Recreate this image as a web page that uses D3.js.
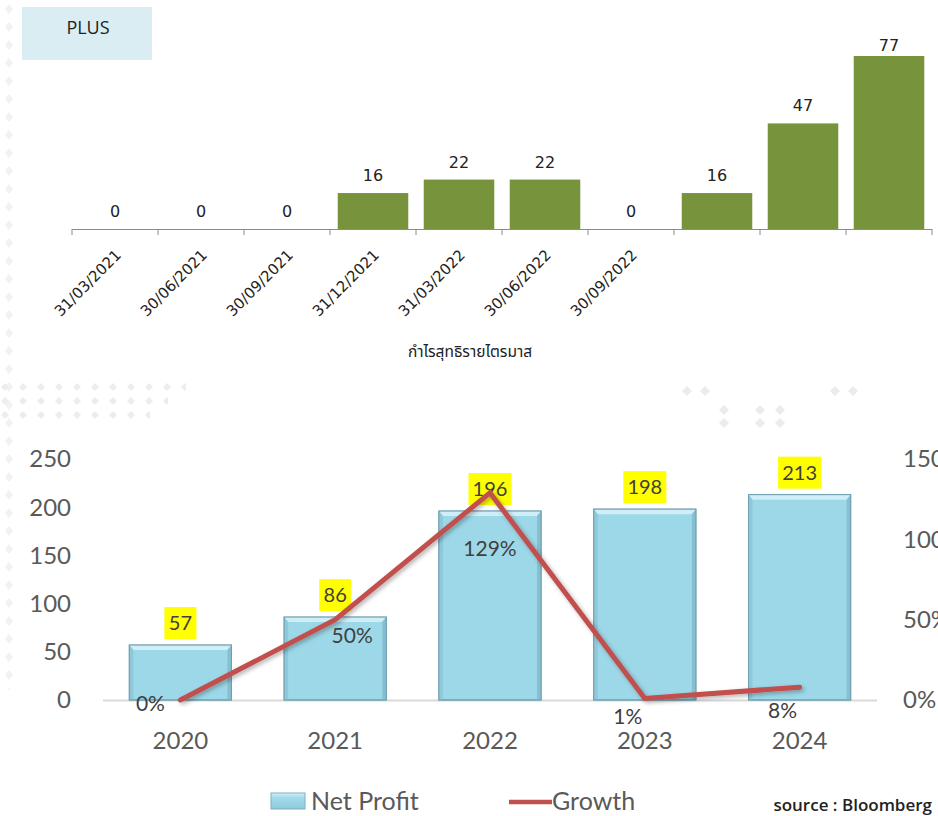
<!DOCTYPE html>
<html>
<head>
<meta charset="utf-8">
<script src="https://cdn.jsdelivr.net/npm/d3@7"></script>
<style>
  body { margin: 0; background: #fff; }
  svg { display: block; }
</style>
</head>
<body>
<svg id="chart" width="938" height="816"></svg>
<script>
// quarterly net profit (top chart)
const quarters = ['31/03/2021','30/06/2021','30/09/2021','31/12/2021','31/03/2022','30/06/2022','30/09/2022','q8','q9','q10'];
const quarterLabels = ['31/03/2021','30/06/2021','30/09/2021','31/12/2021','31/03/2022','30/06/2022','30/09/2022','','',''];
const quarterProfit = [0,0,0,16,22,22,0,16,47,77];

// yearly net profit + growth (bottom chart)
const years = ['2020','2021','2022','2023','2024'];
const netProfit = [57,86,196,198,213];
const growth = [0,0.50,1.29,0.01,0.08];
const growthLabels = ['0%','50%','129%','1%','8%'];
const leftTicks = [0,50,100,150,200,250];
const rightTicks = [0,0.5,1.0,1.5];

const svg = d3.select('#chart');
const defs = svg.append('defs');

// faint diamond background pattern
const pat = defs.append('pattern').attr('id','dia').attr('width',18).attr('height',18)
  .attr('patternUnits','userSpaceOnUse');
pat.append('path').attr('d','M9,4 L13,9 L9,14 L5,9 Z').attr('fill','#ececec');
const pat2 = defs.append('pattern').attr('id','dia2').attr('width',18).attr('height',14)
  .attr('patternUnits','userSpaceOnUse').attr('x',-4).attr('y',2);
pat2.append('path').attr('d','M9,3 L13,7 L9,11 L5,7 Z').attr('fill','#ededed');
svg.append('rect').attr('x',0).attr('y',0).attr('width',14).attr('height',690).attr('fill','url(#dia)').attr('opacity',0.7);
svg.append('rect').attr('x',0).attr('y',383).attr('width',186).attr('height',14).attr('fill','url(#dia2)');
svg.append('rect').attr('x',0).attr('y',397).attr('width',168).attr('height',14).attr('fill','url(#dia2)');
svg.append('rect').attr('x',0).attr('y',411).attr('width',150).attr('height',14).attr('fill','url(#dia2)');
[[687,391],[705,391],[724,410],[724,423],[760,410],[780,410],[760,423],[780,423],[835,391],[853,391]].forEach(p=>{
  svg.append('path').attr('d',`M${p[0]},${p[1]-5} L${p[0]+5},${p[1]} L${p[0]},${p[1]+5} L${p[0]-5},${p[1]} Z`).attr('fill','#ececec');
});

// ---------- top chart ----------
svg.append('rect').attr('x',22).attr('y',7).attr('width',130).attr('height',53).attr('fill','#daedf3');
svg.append('text').attr('x',88).attr('y',34).attr('text-anchor','middle')
  .style('font-family','"Open Sans", sans-serif').style('font-size','18px').attr('fill','#222')
  .text('PLUS');

const tx = d3.scaleBand().domain(quarters).range([72,932]).paddingInner(0.18).paddingOuter(0.09);
const ty = d3.scaleLinear().domain([0,77]).range([229,56]);

const topG = svg.append('g');
topG.selectAll('.qbar').data(quarterProfit).enter().append('rect')
  .attr('x',(d,i)=>tx(quarters[i]))
  .attr('width',tx.bandwidth())
  .attr('y',d=>ty(d))
  .attr('height',d=>ty(0)-ty(d))
  .attr('fill','#77933c');

topG.selectAll('.qlab').data(quarterProfit).enter().append('text')
  .attr('x',(d,i)=>tx(quarters[i])+tx.bandwidth()/2)
  .attr('y',d=>Math.max(ty(d)-12,51))
  .attr('text-anchor','middle')
  .style('font-family','"DejaVu Sans", sans-serif').style('font-size','16px').attr('fill','#222')
  .text(d=>d);

// axis line with ticks at band boundaries
const bounds = d3.range(quarters.length+1).map(i=>72+i*(860/quarters.length));
topG.append('line').attr('x1',72).attr('x2',932).attr('y1',229.5).attr('y2',229.5).attr('stroke','#8c8c8c');
topG.selectAll('.qtick').data(bounds).enter().append('line')
  .attr('x1',d=>d).attr('x2',d=>d).attr('y1',229).attr('y2',235).attr('stroke','#8c8c8c');

topG.selectAll('.qx').data(quarterLabels).enter().append('text')
  .attr('transform',(d,i)=>`translate(${tx(quarters[i])+tx.bandwidth()/2+7},${256}) rotate(-45)`)
  .attr('text-anchor','end')
  .style('font-family','"DejaVu Sans", sans-serif').style('font-size','15px').attr('fill','#222')
  .text(d=>d);

svg.append('text').attr('x',470).attr('y',357).attr('text-anchor','middle')
  .style('font-family','"Noto Sans Thai","Noto Sans", sans-serif').style('font-size','15.5px').attr('fill','#222')
  .text('กำไรสุทธิรายไตรมาส');

// ---------- bottom chart ----------
const x = d3.scaleBand().domain(years).range([103,877]).paddingInner(0.34).paddingOuter(0.17);
const y = d3.scaleLinear().domain([0,250]).range([700,459]);
const y2 = d3.scaleLinear().domain([0,1.5]).range([700,459]);
const font = 'Lato, "Open Sans", sans-serif';

const g = svg.append('g');
g.selectAll('.yl').data(leftTicks).enter().append('text')
  .attr('x',71).attr('y',d=>y(d)).attr('dy','0.35em').attr('text-anchor','end')
  .style('font-family',font).style('font-size','24px').attr('fill','#595959')
  .text(d=>d);
g.selectAll('.yr').data(rightTicks).enter().append('text')
  .attr('x',903).attr('y',d=>y2(d)).attr('dy','0.35em').attr('text-anchor','start')
  .style('font-family',font).style('font-size','24px').attr('fill','#595959')
  .text(d=>d3.format('.0%')(d));

g.append('line').attr('x1',103).attr('x2',877).attr('y1',700.5).attr('y2',700.5)
  .attr('stroke','#d9d9d9').attr('stroke-width',2);

// bevelled bars
const bars = g.selectAll('.bar').data(netProfit).enter().append('g');
const bw = x.bandwidth();
bars.append('rect')
  .attr('x',(d,i)=>x(years[i])).attr('width',bw)
  .attr('y',d=>y(d)).attr('height',d=>y(0)-y(d))
  .attr('fill','#9dd8e8').attr('stroke','#6f9faf').attr('stroke-width',1);
bars.append('path').attr('fill','#cfeef7')
  .attr('d',(d,i)=>{const a=x(years[i]),t=y(d);return `M${a},${t} L${a+bw},${t} L${a+bw-4},${t+5} L${a+4},${t+5} Z`;});
bars.append('path').attr('fill','#8ec9d9')
  .attr('d',(d,i)=>{const a=x(years[i]),t=y(d),b=y(0);return `M${a},${t} L${a+4},${t+5} L${a+4},${b} L${a},${b} Z`;});
bars.append('path').attr('fill','#86bfcf')
  .attr('d',(d,i)=>{const a=x(years[i])+bw,t=y(d),b=y(0);return `M${a},${t} L${a-4},${t+5} L${a-4},${b} L${a},${b} Z`;});
bars.append('rect')
  .attr('x',(d,i)=>x(years[i])).attr('width',bw)
  .attr('y',d=>y(d)).attr('height',d=>y(0)-y(d))
  .attr('fill','none').attr('stroke','#6f9faf').attr('stroke-width',1);

// value labels in yellow boxes
const vl = g.selectAll('.vl').data(netProfit).enter().append('g')
  .attr('transform',(d,i)=>`translate(${x(years[i])+bw/2},${y(d)-22})`);
vl.append('rect')
  .attr('x',d=>-(String(d).length*11+10)/2).attr('y',-16)
  .attr('width',d=>String(d).length*11+10).attr('height',32)
  .attr('fill','#ffff00');
vl.append('text').attr('text-anchor','middle').attr('dy','0.35em')
  .style('font-family',font).style('font-size','20px').attr('fill','#404040')
  .text(d=>d);

// growth line
const shadow = defs.append('filter').attr('id','sh').attr('x','-10%').attr('y','-10%').attr('width','130%').attr('height','130%');
shadow.append('feDropShadow').attr('dx',2).attr('dy',2).attr('stdDeviation',2).attr('flood-color','#000').attr('flood-opacity',0.3);
const line = d3.line().x((d,i)=>x(years[i])+bw/2).y(d=>y2(d));
g.append('path').datum(growth).attr('d',line)
  .attr('fill','none').attr('stroke','#c0504d').attr('stroke-width',5)
  .attr('stroke-linejoin','miter').attr('stroke-linecap','round')
  .attr('filter','url(#sh)');

const gOff = [[-30,4],[17,16],[0,56],[-17,18],[-17,24]];
g.selectAll('.gl').data(growth).enter().append('text')
  .attr('x',(d,i)=>x(years[i])+bw/2+gOff[i][0])
  .attr('y',(d,i)=>y2(d)+gOff[i][1]).attr('dy','0.35em')
  .attr('text-anchor','middle')
  .style('font-family',font).style('font-size','21px').attr('fill','#404040')
  .text((d,i)=>growthLabels[i]);

g.selectAll('.xl').data(years).enter().append('text')
  .attr('x',d=>x(d)+bw/2).attr('y',741).attr('dy','0.35em').attr('text-anchor','middle')
  .style('font-family',font).style('font-size','24px').attr('fill','#595959')
  .text(d=>d);

// legend
const lgrad = defs.append('linearGradient').attr('id','lg').attr('x1',0).attr('y1',0).attr('x2',0).attr('y2',1);
lgrad.append('stop').attr('offset','0').attr('stop-color','#d4f0f8');
lgrad.append('stop').attr('offset','0.3').attr('stop-color','#a3dbea');
lgrad.append('stop').attr('offset','1').attr('stop-color','#8ccada');
svg.append('rect').attr('x',271).attr('y',793).attr('width',34).attr('height',16)
  .attr('fill','url(#lg)').attr('stroke','#7fb0bf');
svg.append('text').attr('x',311).attr('y',801).attr('dy','0.35em')
  .style('font-family',font).style('font-size','25px').attr('fill','#595959').text('Net Profit');
svg.append('line').attr('x1',509).attr('x2',552).attr('y1',802).attr('y2',802)
  .attr('stroke','#c0504d').attr('stroke-width',4.5);
svg.append('text').attr('x',552).attr('y',801).attr('dy','0.35em')
  .style('font-family',font).style('font-size','25px').attr('fill','#595959').text('Growth');
svg.append('text').attr('x',932).attr('y',811).attr('text-anchor','end')
  .style('font-family','"Open Sans", sans-serif').style('font-size','17px').style('font-weight','600').attr('fill','#222')
  .text('source : Bloomberg');
</script>
</body>
</html>
